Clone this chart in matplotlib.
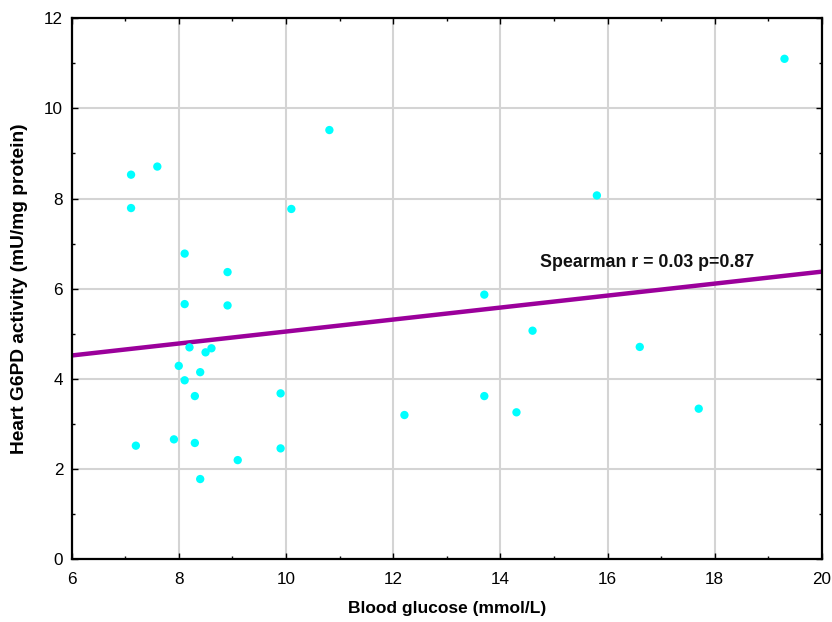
import matplotlib
matplotlib.use("Agg")
import matplotlib.pyplot as plt
import numpy as np
from matplotlib.ticker import MultipleLocator

plt.rcParams['font.family'] = ['Liberation Sans', 'DejaVu Sans']

glucose = [7.11, 7.60, 7.11, 8.11, 8.91, 8.11, 8.91, 8.20, 8.50, 8.61, 8.00, 8.40,
           8.11, 8.30, 9.90, 7.20, 7.91, 8.30, 9.90, 9.10, 8.40, 10.10, 10.81,
           15.80, 13.70, 14.60, 16.60, 12.21, 13.70, 14.30, 17.70, 19.30]
g6pd = [8.53, 8.71, 7.79, 6.78, 6.37, 5.66, 5.63, 4.70, 4.59, 4.68, 4.29, 4.15,
        3.97, 3.62, 3.68, 2.52, 2.66, 2.58, 2.46, 2.20, 1.78, 7.77, 9.52,
        8.07, 5.87, 5.07, 4.71, 3.20, 3.62, 3.26, 3.34, 11.10]
fit_x = [6, 20]
fit_y = [4.52, 6.38]
annotation = "Spearman r = 0.03 p=0.87"

fig = plt.figure(figsize=(8.32, 6.22), dpi=100)
ax = fig.add_axes([0.086, 0.1008, 0.902, 0.8699])

ax.set_xlim(6, 20)
ax.set_ylim(0, 12)
ax.xaxis.set_major_locator(MultipleLocator(2))
ax.xaxis.set_minor_locator(MultipleLocator(1))
ax.yaxis.set_major_locator(MultipleLocator(2))
ax.yaxis.set_minor_locator(MultipleLocator(1))

ax.grid(True, which='major', color='#d4d4d4', linewidth=1.5, zorder=0)
ax.set_axisbelow(True)

ax.plot(fit_x, fit_y, color='#9b009b', linewidth=3.2, zorder=2, solid_capstyle='butt')
ax.scatter(glucose, g6pd, s=36, color='#00ffff', edgecolors='none', zorder=3)

ax.text(14.74, 6.58, annotation, fontsize=12.8, fontweight='bold', va='center', ha='left',
        color='#111111')

for s in ax.spines.values():
    s.set_linewidth(1.6)
    s.set_color('black')

ax.tick_params(which='major', direction='in', length=4, width=1, labelsize=12.3,
               top=True, right=True, pad=9)
ax.tick_params(which='minor', direction='in', length=2.5, width=1, top=True, right=True)
ax.tick_params(axis='y', pad=6)

ax.set_xlabel("Blood glucose (mmol/L)", fontsize=12.5, fontweight='bold')
ax.set_ylabel("Heart G6PD activity (mU/mg protein)", fontsize=13.8, fontweight='bold')
ax.xaxis.set_label_coords(0.5, -0.0918)
ax.yaxis.set_label_coords(-0.0688, 0.5)
ax.xaxis.label.set_va('center')
ax.yaxis.label.set_va('center')

fig.savefig("out.png", dpi=100)
